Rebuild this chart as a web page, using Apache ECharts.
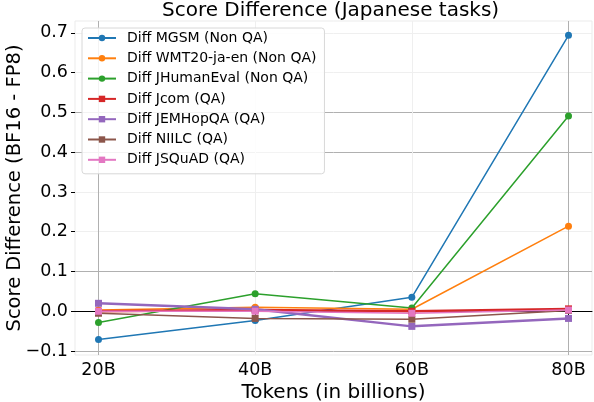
<!DOCTYPE html>
<html>
<head>
<meta charset="utf-8">
<script src="https://cdn.jsdelivr.net/npm/echarts@6/dist/echarts.min.js"></script>
<style>
  html, body { margin: 0; padding: 0; background: #fff; }
  #chart { width: 594px; height: 402px; }
</style>
</head>
<body>
<div id="chart"></div>
<script>
// tokens (in billions) on the x axis
var tokens = [20, 40, 60, 80];
var yTicks = [-0.1, 0.0, 0.1, 0.2, 0.3, 0.4, 0.5, 0.6, 0.7];

var seriesNames = [
  'Diff MGSM (Non QA)',
  'Diff WMT20-ja-en (Non QA)',
  'Diff JHumanEval (Non QA)',
  'Diff Jcom (QA)',
  'Diff JEMHopQA (QA)',
  'Diff NIILC (QA)',
  'Diff JSQuAD (QA)'
];
var mgsm = [-0.071, -0.023, 0.035, 0.694];
var wmt20 = [0.003, 0.010, 0.005, 0.214];
var jhumaneval = [-0.028, 0.044, 0.008, 0.491];
var jcom = [0.000, 0.003, 0.000, 0.006];
var jemhopqa = [0.020, 0.005, -0.038, -0.018];
var niilc = [-0.005, -0.018, -0.020, 0.002];
var jsquad = [0.000, 0.000, -0.005, 0.003];

var colors = ['#1f77b4', '#ff7f0e', '#2ca02c', '#d62728', '#9467bd', '#8c564b', '#e377c2'];

function pairs(vals) {
  return tokens.map(function (t, i) { return [t, vals[i]]; });
}

function mkSeries(name, vals, symbol, width, size) {
  return {
    name: name,
    type: 'line',
    data: pairs(vals),
    symbol: symbol,
    symbolSize: size,
    showSymbol: true,
    lineStyle: { width: width },
    emphasis: { disabled: true },
    animation: false
  };
}

var chart = echarts.init(document.getElementById('chart'));

var font = 'DejaVu Sans';
var dark = '#b0b0b0';
var faint = '#efefef';

var option = {
  color: colors,
  textStyle: { fontFamily: font },
  title: {
    text: 'Score Difference (Japanese tasks)',
    left: 162,
    top: 1,
    padding: 0,
    textStyle: { fontFamily: font, fontSize: 20, fontWeight: 'normal', color: '#000' }
  },
  legend: {
    orient: 'vertical',
    left: 82,
    top: 28,
    padding: [3, 8, 7, 5],
    itemWidth: 28,
    itemHeight: 8,
    itemGap: 6.3,
    backgroundColor: 'rgba(255,255,255,0.85)',
    borderColor: '#d8d8d8',
    borderWidth: 1,
    borderRadius: 3,
    textStyle: { fontFamily: font, fontSize: 14, color: '#000', lineHeight: 14, padding: [0, 0, 0, 6] },
    data: seriesNames
  },
  grid: {
    left: 75, right: 2, top: 21, bottom: 47,
    outerBoundsMode: 'none',
    containLabel: false,
    show: true, borderColor: '#ebebeb', borderWidth: 1
  },
  xAxis: {
    type: 'value',
    min: 17,
    max: 83,
    name: 'Tokens (in billions)',
    nameLocation: 'middle',
    nameGap: 28,
    nameMoveOverlap: false,
    nameTextStyle: { fontFamily: font, fontSize: 20, color: '#000' },
    axisLine: { show: true, lineStyle: { color: '#000', width: 1 } },
    axisTick: { show: true, customValues: tokens, length: 4, lineStyle: { color: '#000' } },
    axisLabel: {
      customValues: tokens,
      formatter: function (v) { return v + 'B'; },
      fontFamily: font, fontSize: 17.5, color: '#000', margin: 6
    },
    splitLine: { show: true, lineStyle: { color: [dark, faint, faint, dark], width: 1 } }
  },
  yAxis: {
    type: 'value',
    min: -0.11,
    max: 0.73,
    name: 'Score Difference (BF16 - FP8)',
    nameLocation: 'middle',
    nameGap: 50,
    nameMoveOverlap: false,
    nameTextStyle: { fontFamily: font, fontSize: 19.5, color: '#000' },
    axisLine: { show: false },
    axisTick: { show: true, customValues: yTicks, length: 4, lineStyle: { color: '#000' } },
    axisLabel: {
      customValues: yTicks,
      formatter: function (v) { return (v < 0 ? '\u2212' : '') + Math.abs(v).toFixed(1); },
      fontFamily: font, fontSize: 17.5, color: '#000', margin: 7
    },
    splitLine: {
      show: true,
      lineStyle: { color: [dark, dark, dark, faint, faint, dark, dark, faint, faint], width: 1 }
    }
  },
  series: [
    mkSeries(seriesNames[0], mgsm, 'circle', 1.5, 7),
    mkSeries(seriesNames[1], wmt20, 'circle', 1.5, 7),
    mkSeries(seriesNames[2], jhumaneval, 'circle', 1.5, 7),
    mkSeries(seriesNames[3], jcom, 'rect', 2.5, 7),
    mkSeries(seriesNames[4], jemhopqa, 'rect', 2.5, 7),
    mkSeries(seriesNames[5], niilc, 'rect', 1.5, 7),
    mkSeries(seriesNames[6], jsquad, 'rect', 1.5, 7)
  ]
};

chart.setOption(option);
</script>
</body>
</html>
